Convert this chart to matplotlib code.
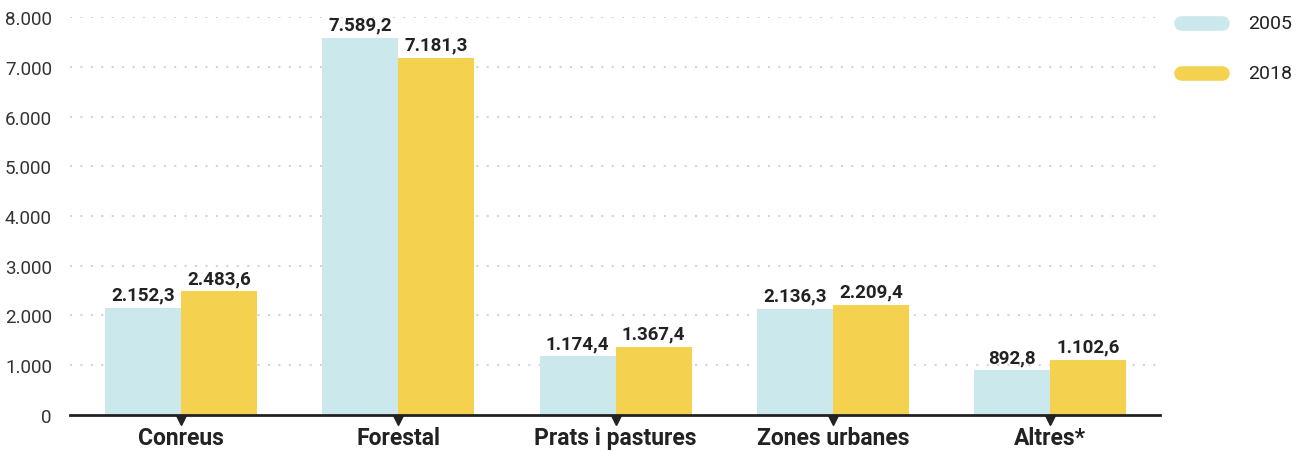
import matplotlib.pyplot as plt
from matplotlib.lines import Line2D
from matplotlib import transforms
import numpy as np

plt.rcParams['font.family'] = ['Roboto', 'DejaVu Sans']

categories = ["Conreus", "Forestal", "Prats i pastures", "Zones urbanes", "Altres*"]
vals_2005 = [2152.3, 7589.2, 1174.4, 2136.3, 892.8]
vals_2018 = [2483.6, 7181.3, 1367.4, 2209.4, 1102.6]
series = ["2005", "2018"]
colors = ["#cbe8ec", "#f4d250"]


def fmt(v):
    s = "{:,.1f}".format(v)
    return s.replace(",", "X").replace(".", ",").replace("X", ".")


fig = plt.figure(figsize=(13.07, 4.52), dpi=100)
ax = fig.add_axes([0.0536, 0.080, 0.834, 0.880])

x = np.arange(len(categories))
w = 0.35
for vals, off, c in [(vals_2005, -w / 2, colors[0]), (vals_2018, w / 2, colors[1])]:
    bars = ax.bar(x + off, vals, width=w, color=c, zorder=2)
    for b, v in zip(bars, vals):
        ax.annotate(fmt(v), (b.get_x() + b.get_width() / 2, v), xytext=(0, 3),
                    textcoords="offset points", ha="center", va="bottom",
                    fontsize=13.5, fontweight="bold", color="#222222")

ax.set_xlim(-0.511, 4.506)
ax.set_ylim(0, 8000)
yt = np.arange(0, 8001, 1000)
ax.set_yticks(yt)
ax.set_yticklabels(["{:,}".format(t).replace(",", ".") for t in yt],
                   fontsize=13.5, fontweight="normal", color="#333333")
ax.set_xticks(x)
ax.set_xticklabels(categories, fontsize=16.5, fontweight="bold", color="#222222")
ax.tick_params(axis="both", length=0)
ax.tick_params(axis="y", pad=13)
ax.tick_params(axis="x", pad=8)

for t in yt[1:]:
    ax.axhline(t, color="#d4d4d4", linestyle=(0, (1, 4)), linewidth=1.5, zorder=1)

for s in ["top", "right", "left"]:
    ax.spines[s].set_visible(False)
ax.spines["bottom"].set_linewidth(2)
ax.spines["bottom"].set_color("#222222")
ax.spines["bottom"].set_zorder(3)

# small carets under the axis at each category
down = transforms.offset_copy(ax.transData, fig=fig, x=0, y=-4, units="points")
ax.plot(x, np.zeros(len(x)), linestyle="none", marker="v", markersize=7,
        color="#222222", clip_on=False, zorder=4, transform=down)

# legend: rounded pills
for i, (lab, c) in enumerate(zip(series, colors)):
    yc = 1 - (24 + i * 50) / 452
    fig.add_artist(Line2D([1181 / 1307, 1222 / 1307], [yc, yc], color=c,
                          linewidth=10.5, solid_capstyle="round",
                          transform=fig.transFigure))
    fig.text(1248 / 1307, yc, lab, fontsize=14, color="#222222", va="center", ha="left")

fig.savefig("out.png", dpi=100)
